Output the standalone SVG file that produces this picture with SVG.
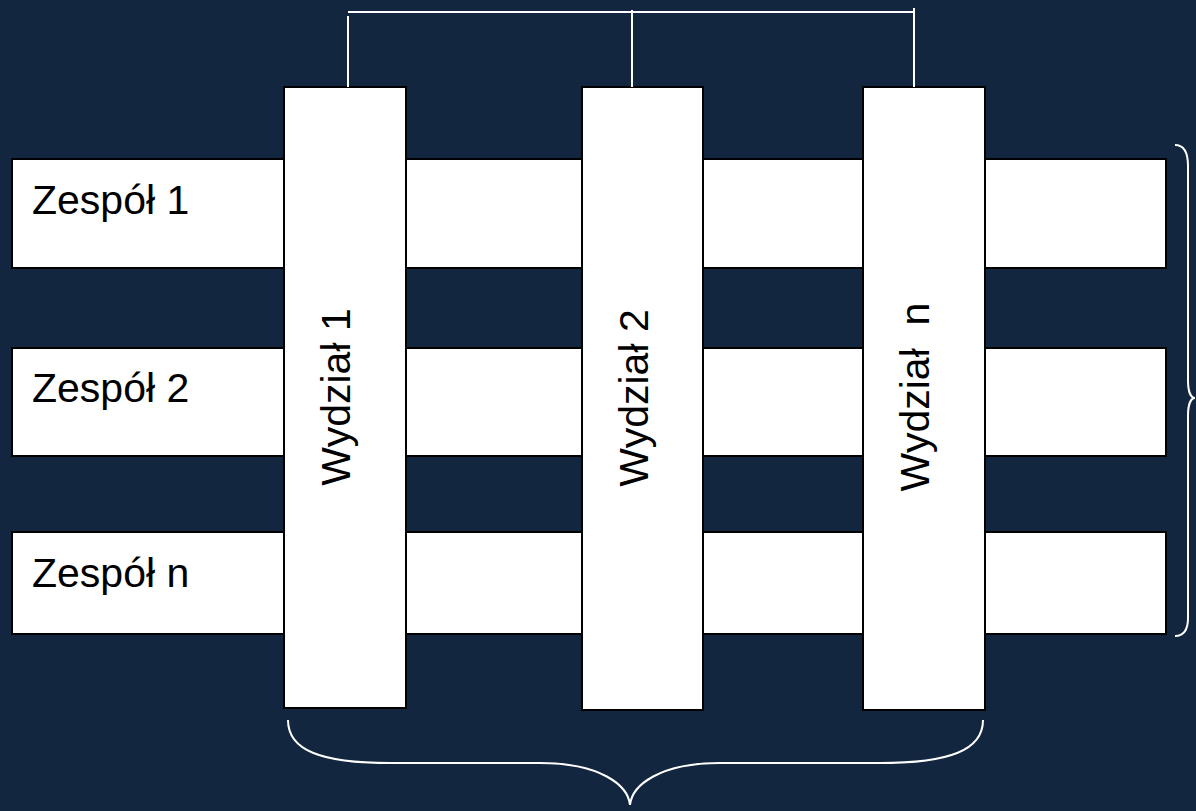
<svg xmlns="http://www.w3.org/2000/svg" width="1196" height="811" viewBox="0 0 1196 811">
<style>
.bar{fill:#ffffff;stroke:#000000;stroke-width:2}
.lbl{font-family:"Liberation Sans",Arial,sans-serif;font-size:41px;fill:#000000;white-space:pre}
.conn{fill:none;stroke:#ffffff;stroke-width:2}
</style>
<rect x="0" y="0" width="1196" height="811" fill="#12263F"/>
<g id="zespol1"><rect class="bar" x="12" y="159" width="1154" height="109"/><text class="lbl" x="32" y="214">Zespół 1</text></g>
<g id="zespol2"><rect class="bar" x="12" y="348" width="1154" height="108"/><text class="lbl" x="32" y="402">Zespół 2</text></g>
<g id="zespoln"><rect class="bar" x="12" y="532" width="1154" height="102"/><text class="lbl" x="32" y="587">Zespół n</text></g>
<g id="wydzial1"><rect class="bar" x="284" y="87" width="122" height="621"/><text class="lbl" transform="translate(350,397) rotate(-90)" text-anchor="middle">Wydział 1</text></g>
<g id="wydzial2"><rect class="bar" x="582" y="87" width="121" height="623"/><text class="lbl" transform="translate(648,398) rotate(-90)" text-anchor="middle">Wydział 2</text></g>
<g id="wydzialn"><rect class="bar" x="863" y="87" width="122" height="623"/><text class="lbl" transform="translate(929,397) rotate(-90)" text-anchor="middle">Wydział  n</text></g>
<g id="connectors">
<path class="conn" d="M348,12 L914,12 M348,16 L348,87 M632,10 L632,87 M914,8 L914,87"/>
<path class="conn" d="M288,720 C288,750 320,763 390,763 L540,763 C600,763 628,785 630,805 C632,785 660,763 720,763 L880,763 C950,763 983,750 983,720"/>
<path class="conn" d="M1175,145 C1184,145 1188,153 1188,166 L1188,380 C1188,392 1191,398 1195,398 C1191,398 1188,404 1188,416 L1188,618 C1188,630 1184,636 1175,636"/>
</g>
</svg>
